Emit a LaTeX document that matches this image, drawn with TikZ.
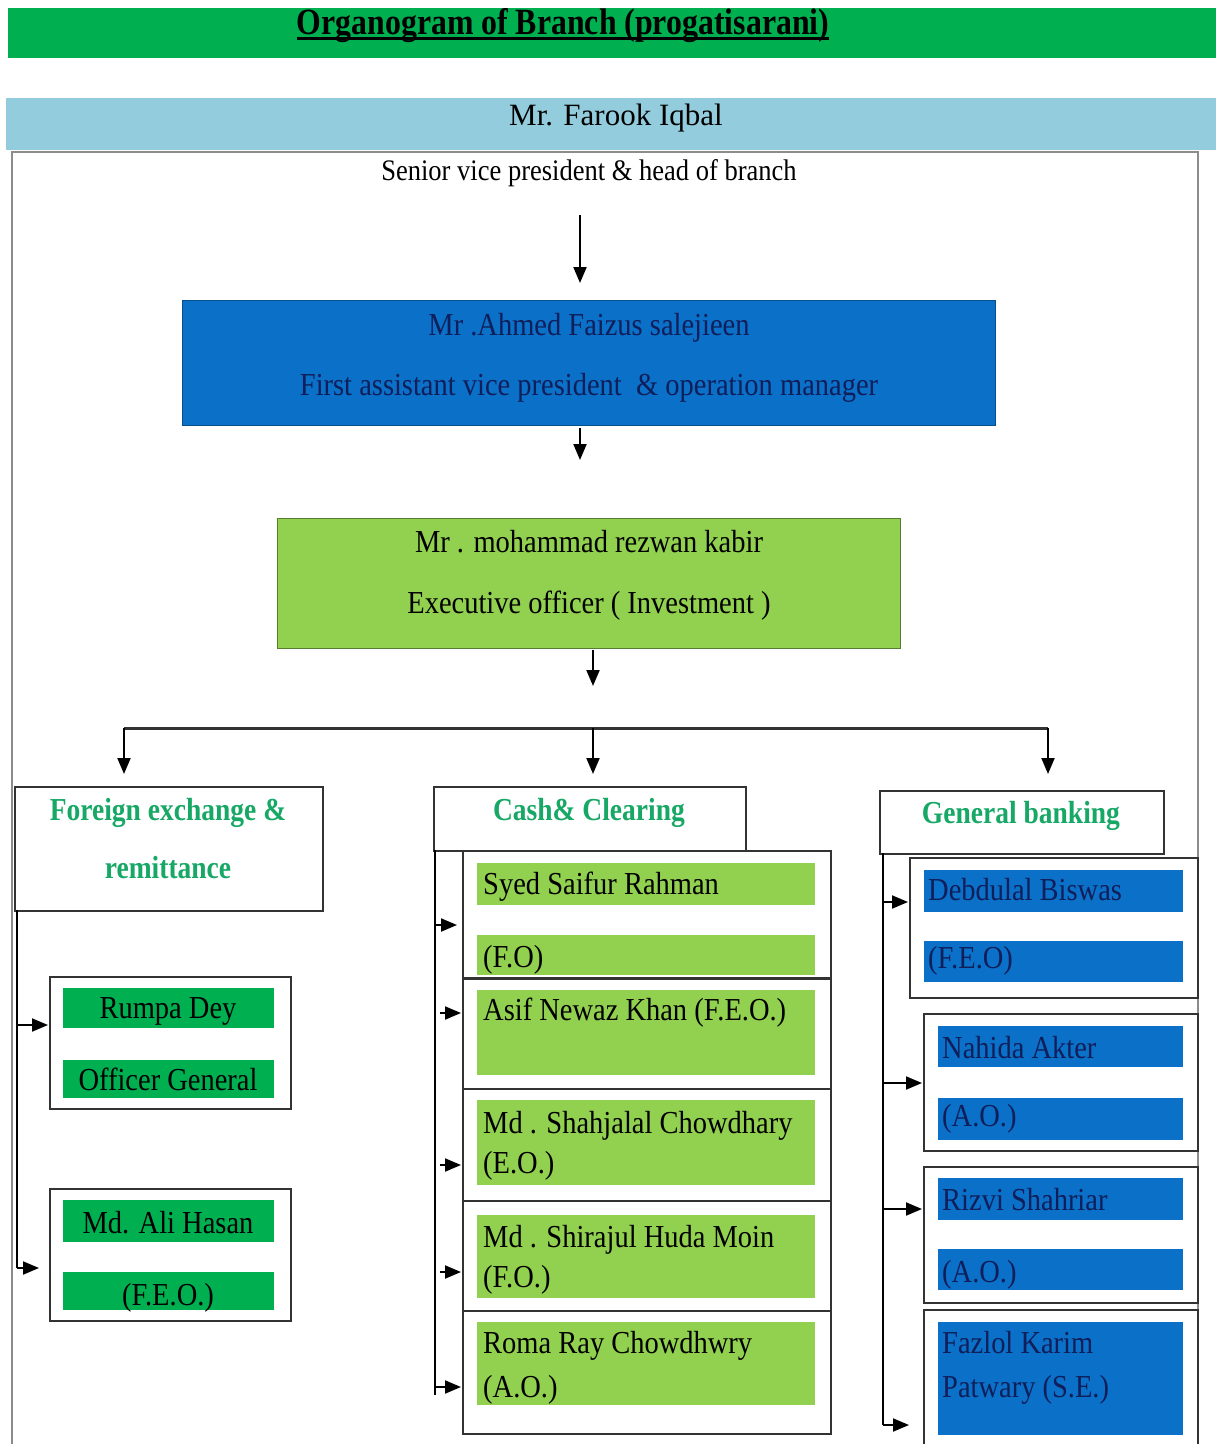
\documentclass[tikz,border=0pt]{standalone}
\usepackage{fontspec}
\setmainfont{Liberation Serif}
\newfontfamily\condfont[FakeStretch=0.89]{Liberation Serif}
\newfontfamily\condbold[FakeStretch=0.86]{Liberation Serif Bold}
\usetikzlibrary{arrows.meta}
\definecolor{titlegreen}{HTML}{00B050}
\definecolor{lightblue}{HTML}{93CDDD}
\definecolor{boxblue}{HTML}{0A70C8}
\definecolor{limegreen}{HTML}{92D050}
\definecolor{hdrgreen}{HTML}{17A866}
\definecolor{navy}{HTML}{101E5A}
\definecolor{boxgray}{HTML}{333333}
\definecolor{framegray}{HTML}{8C8C8C}
\tikzset{
  box/.style={draw=boxgray, line width=2pt, inner sep=0, anchor=north west},
  bar/.style={inner sep=0, anchor=north west},
  txt/.style={font=\condfont\fontsize{32}{36}\selectfont, inner sep=0, anchor=base},
  ltxt/.style={txt, anchor=base west},
  hdr/.style={font=\condbold\fontsize{32}{36}\selectfont, text=hdrgreen, inner sep=0, anchor=base},
  arr/.style={-{Triangle[length=16pt,width=13pt]}, line width=2pt},
  trunk/.style={line width=2pt},
}
\begin{document}
\begin{tikzpicture}[x=1pt,y=-1pt]
\useasboundingbox (0,0) rectangle (1216,1444);
\clip (0,0) rectangle (1216,1444);
\fill[white] (0,0) rectangle (1216,1444);

% title
\node[bar, fill=titlegreen, minimum width=1208, minimum height=50] (title) at (8,8) {};
\node[font=\condbold\fontsize{37}{42}\selectfont, inner sep=0, anchor=base] (titletext) at (563,34) {Organogram of Branch (progatisarani)};
\draw[line width=3pt] ([yshift=-4pt]titletext.base west) -- ([yshift=-4pt]titletext.base east);

% head
\node[bar, fill=lightblue, minimum width=1210, minimum height=52] (headbar) at (6,98) {};
\node[font=\fontsize{31}{36}\selectfont, inner sep=0, anchor=base] (headname) at (616,125) {Mr. Farook Iqbal};
\draw[framegray, line width=1.5pt] (12,1460) -- (12,152) -- (1198,152) -- (1198,1460);
\node[font=\condfont\fontsize{29.8}{34}\selectfont, inner sep=0, anchor=base] (senior) at (589,180) {Senior vice president \& head of branch};

% operation manager
\node[box, draw=boxblue!70!black, line width=1pt, fill=boxblue, minimum width=813, minimum height=125] (opm) at (182,300) {};
\node[txt, text=navy] (opm1) at (589,335) {Mr .Ahmed Faizus salejieen};
\node[txt, text=navy] (opm2) at (589,395) {First assistant vice president \ \& operation manager};

% executive officer
\node[box, draw=limegreen!60!black, line width=1pt, fill=limegreen, minimum width=623, minimum height=130] (exo) at (277,518) {};
\node[txt] (exo1) at (589,552) {Mr . mohammad rezwan kabir};
\node[txt] (exo2) at (589,613) {Executive officer ( Investment )};

% vertical arrows
\coordinate (a1s) at (580,215); \coordinate (a1e) at (580,283);
\draw[arr] (a1s) -- (a1e);
\coordinate (a2s) at (580,428); \coordinate (a2e) at (580,460);
\draw[arr] (a2s) -- (a2e);
\coordinate (a3s) at (593,650); \coordinate (a3e) at (593,686);
\draw[arr] (a3s) -- (a3e);

% bus
\coordinate (busL) at (124,728); \coordinate (busM) at (593,728); \coordinate (busR) at (1048,728);
\draw[line width=3pt, boxgray] (busL) -- (busR);
\coordinate (bL) at (124,774); \coordinate (bM) at (593,774); \coordinate (bR) at (1048,774);
\draw[arr] (busL) -- (bL);
\draw[arr] (busM) -- (bM);
\draw[arr] (busR) -- (bR);

% ---------- Foreign exchange ----------
\node[box, minimum width=308, minimum height=124] (fx) at (14,786) {};
\node[hdr] (fxt1) at (168,820) {Foreign exchange \&};
\node[hdr] (fxt2) at (168,878) {remittance};

\node[box, minimum width=241, minimum height=132] (rumpa) at (49,976) {};
\node[bar, fill=titlegreen, minimum width=211, minimum height=40] (rumpa1) at (63,988) {};
\node[bar, fill=titlegreen, minimum width=211, minimum height=38] (rumpa2) at (63,1060) {};
\node[txt] at (168,1018) {Rumpa Dey};
\node[txt] at (168,1090) {Officer General};

\node[box, minimum width=241, minimum height=132] (ali) at (49,1188) {};
\node[bar, fill=titlegreen, minimum width=211, minimum height=42] (ali1) at (63,1200) {};
\node[bar, fill=titlegreen, minimum width=211, minimum height=38] (ali2) at (63,1272) {};
\node[txt] at (168,1233) {Md. Ali Hasan};
\node[txt] at (168,1305) {(F.E.O.)};

\coordinate (fxtop) at (17,910); \coordinate (fxbot) at (17,1268);
\draw[trunk] (fxtop) -- (fxbot);
\draw[arr] (fxtop |- 0,1025) -- (48,1025);
\draw[arr] (fxbot) -- (39,1268);

% ---------- Cash & Clearing ----------
\node[box, minimum width=312, minimum height=64] (cash) at (433,786) {};
\node[hdr] (casht) at (589,820) {Cash\& Clearing};

\node[box, minimum width=368, minimum height=127] (c1) at (462,850) {};
\node[box, minimum width=368, minimum height=111] (c2) at (462,977) {};
\node[box, minimum width=368, minimum height=112] (c3) at (462,1088) {};
\node[box, minimum width=368, minimum height=110] (c4) at (462,1200) {};
\node[box, minimum width=368, minimum height=123] (c5) at (462,1310) {};
\node[bar, fill=limegreen, minimum width=338, minimum height=42] (c1a) at (477,863) {};
\node[bar, fill=limegreen, minimum width=338, minimum height=40] (c1b) at (477,935) {};
\node[bar, fill=limegreen, minimum width=338, minimum height=85] (c2a) at (477,990) {};
\node[bar, fill=limegreen, minimum width=338, minimum height=85] (c3a) at (477,1100) {};
\node[bar, fill=limegreen, minimum width=338, minimum height=83] (c4a) at (477,1215) {};
\node[bar, fill=limegreen, minimum width=338, minimum height=83] (c5a) at (477,1322) {};
\draw[boxgray, line width=2pt] (c1.south west) -- (c1.south east);
\node[ltxt] at (483,894) {Syed Saifur Rahman};
\node[ltxt] at (483,967) {(F.O)};
\node[ltxt] at (483,1020) {Asif Newaz Khan (F.E.O.)};
\node[ltxt] at (483,1133) {Md . Shahjalal Chowdhary};
\node[ltxt] at (483,1173) {(E.O.)};
\node[ltxt] at (483,1247) {Md . Shirajul Huda Moin};
\node[ltxt] at (483,1287) {(F.O.)};
\node[ltxt] at (483,1353) {Roma Ray Chowdhwry};
\node[ltxt] at (483,1397) {(A.O.)};

\coordinate (ctop) at (435,850); \coordinate (cbot) at (435,1395);
\draw[trunk] (ctop) -- (cbot);
\draw[arr] (ctop |- 0,925) -- (457,925);
\draw[arr] (440,1013) -- (461,1013);
\draw[arr] (440,1165) -- (461,1165);
\draw[arr] (440,1272) -- (461,1272);
\draw[arr] (cbot |- 0,1387) -- (461,1387);

% ---------- General banking ----------
\node[box, minimum width=284, minimum height=63] (gb) at (879,790) {};
\node[hdr] (gbt) at (1021,823) {General banking};

\node[box, minimum width=288, minimum height=140] (g1) at (909,857) {};
\node[bar, fill=boxblue, minimum width=259, minimum height=42] (g1a) at (924,870) {};
\node[bar, fill=boxblue, minimum width=259, minimum height=41] (g1b) at (924,941) {};
\node[ltxt, text=navy] at (928,900) {Debdulal Biswas};
\node[ltxt, text=navy] at (928,968) {(F.E.O)};

\node[box, minimum width=274, minimum height=137] (g2) at (923,1013) {};
\node[bar, fill=boxblue, minimum width=245, minimum height=41] (g2a) at (938,1026) {};
\node[bar, fill=boxblue, minimum width=245, minimum height=42] (g2b) at (938,1098) {};
\node[ltxt, text=navy] at (942,1058) {Nahida Akter};
\node[ltxt, text=navy] at (942,1126) {(A.O.)};

\node[box, minimum width=274, minimum height=136] (g3) at (923,1166) {};
\node[bar, fill=boxblue, minimum width=245, minimum height=42] (g3a) at (938,1178) {};
\node[bar, fill=boxblue, minimum width=245, minimum height=41] (g3b) at (938,1249) {};
\node[ltxt, text=navy] at (942,1210) {Rizvi Shahriar};
\node[ltxt, text=navy] at (942,1282) {(A.O.)};

\node[box, minimum width=274, minimum height=160] (g4) at (923,1309) {};
\node[bar, fill=boxblue, minimum width=245, minimum height=113] (g4a) at (938,1322) {};
\node[ltxt, text=navy] at (942,1353) {Fazlol Karim};
\node[ltxt, text=navy] at (942,1397) {Patwary (S.E.)};

\coordinate (gtop) at (883,853); \coordinate (gbot) at (883,1425);
\draw[trunk] (gtop) -- (gbot);
\draw[arr] (gtop |- 0,902) -- (908,902);
\draw[arr] (gtop |- 0,1083) -- (922,1083);
\draw[arr] (gtop |- 0,1209) -- (922,1209);
\draw[arr] (gbot) -- (909,1425);
\end{tikzpicture}
\end{document}
